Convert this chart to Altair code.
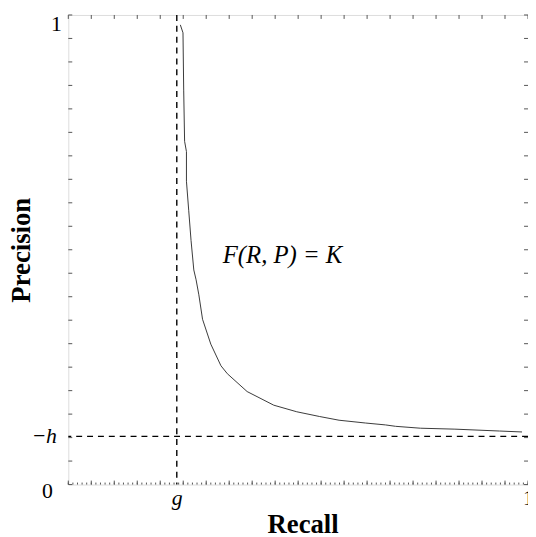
import altair as alt
import pandas as pd
import numpy as np

# Reference lines
g_val = 0.236
h_val = 0.1025

# Iso-F curve (Recall, Precision)
recall = [0.2437, 0.2495, 0.251, 0.253, 0.257, 0.257, 0.262, 0.267, 0.273, 0.278,
          0.284, 0.292, 0.310, 0.332, 0.346, 0.389, 0.447, 0.497, 0.546, 0.589,
          0.647, 0.690, 0.712, 0.766, 0.841, 0.938, 0.987]
precision = [0.979, 0.962, 0.840, 0.731, 0.709, 0.646, 0.583, 0.520, 0.457, 0.436,
             0.404, 0.352, 0.299, 0.253, 0.236, 0.198, 0.169, 0.155, 0.145, 0.137,
             0.131, 0.127, 0.124, 0.120, 0.118, 0.114, 0.112]

major_ticks = [round(i * 0.05, 2) for i in range(21)]
minor_ticks = [round(i * 0.01, 2) for i in range(101)]

W, H = 465, 475
SERIF = "Liberation Serif"

curve_df = pd.DataFrame({"R": recall, "P": precision, "i": range(len(recall))})
major_df = pd.DataFrame({"t": major_ticks})
minor_df = pd.DataFrame({"t": minor_ticks})

xscale = alt.Scale(domain=[0, 1], nice=False, zero=False)
yscale = alt.Scale(domain=[0, 1], nice=False, zero=False)

x_axis = alt.Axis(
    values=[g_val, 1],
    labelExpr="datum.value < 0.5 ? 'g' : '1'",
    domain=False, ticks=False, grid=False,
    labelFont=SERIF, labelFontSize=22, labelColor="black",
    labelFontStyle={"condition": {"test": "datum.value < 0.5", "value": "italic"}, "value": "normal"},
    labelBaseline="alphabetic", labelPadding=20, labelFlush=False,
    title="Recall", titleFont=SERIF, titleFontSize=27, titleFontWeight="bold",
    titleColor="black", titleX=237, titleY=48, titleBaseline="alphabetic", titleAlign="center",
)
y_axis = alt.Axis(
    values=[0, h_val, 1],
    labelExpr="datum.value == 0 ? '0' : (datum.value == 1 ? '1' : '\u2212h')",
    domain=False, ticks=False, grid=False,
    labelFont=SERIF, labelFontSize=22, labelColor="black",
    labelFontStyle={"condition": {"test": "datum.value > 0 && datum.value < 1", "value": "italic"}, "value": "normal"},
    labelPadding={"condition": [{"test": "datum.value == 0", "value": 16},
                                {"test": "datum.value == 1", "value": 7}], "value": 12},
    labelOffset={"condition": [{"test": "datum.value == 0", "value": 6},
                               {"test": "datum.value == 1", "value": 9}], "value": -1},
    labelBaseline="middle", labelFlush=False,
    title="Precision", titleFont=SERIF, titleFontSize=27, titleFontWeight="bold",
    titleColor="black", titleX=-47, titleY=H / 2, titleAngle=-90,
    titleBaseline="middle", titleAlign="center",
)

base_x = alt.X("R:Q", scale=xscale, axis=x_axis)
base_y = alt.Y("P:Q", scale=yscale, axis=y_axis)

curve = alt.Chart(curve_df).mark_line(color="#3a3a3a", strokeWidth=1).encode(
    x=base_x, y=base_y, order="i:O"
)

vline = alt.Chart().mark_rule(color="black", strokeWidth=1.4, strokeDash=[6, 5]).encode(
    x=alt.datum(g_val, scale=xscale)
)
hline = alt.Chart().mark_rule(color="black", strokeWidth=1.4, strokeDash=[6, 5]).encode(
    y=alt.datum(h_val, scale=yscale)
)

label = alt.Chart().mark_text(
    text="F(R, P) = K", font=SERIF, fontSize=25, fontStyle="italic",
    align="left", baseline="middle", color="black"
).encode(x=alt.datum(0.336, scale=xscale), y=alt.datum(0.488, scale=yscale))

tick_color = "#555555"
top_ticks = alt.Chart(major_df).mark_rule(color=tick_color, strokeWidth=1).encode(
    x=alt.X("t:Q", scale=xscale), y=alt.value(0), y2=alt.value(4))
bot_ticks = alt.Chart(major_df).mark_rule(color=tick_color, strokeWidth=1).encode(
    x=alt.X("t:Q", scale=xscale), y=alt.value(H), y2=alt.value(H - 4))
bot_minor = alt.Chart(minor_df).mark_rule(color=tick_color, strokeWidth=1).encode(
    x=alt.X("t:Q", scale=xscale), y=alt.value(H), y2=alt.value(H - 2))
left_ticks = alt.Chart(major_df).mark_rule(color=tick_color, strokeWidth=1).encode(
    y=alt.Y("t:Q", scale=yscale), x=alt.value(0), x2=alt.value(4))
right_ticks = alt.Chart(major_df).mark_rule(color=tick_color, strokeWidth=1).encode(
    y=alt.Y("t:Q", scale=yscale), x=alt.value(W), x2=alt.value(W - 4))

chart = alt.layer(
    curve, vline, hline, label, top_ticks, bot_ticks, bot_minor, left_ticks, right_ticks
).properties(
    width=W, height=H,
    autosize=alt.AutoSizeParams(type="none"),
    padding={"left": 61, "top": 4, "right": 0, "bottom": 50},
).configure_view(
    stroke="#555555", strokeWidth=1.2
).configure(background="white")

chart.save("out.html", embed_options={"renderer": "svg", "actions": False})
